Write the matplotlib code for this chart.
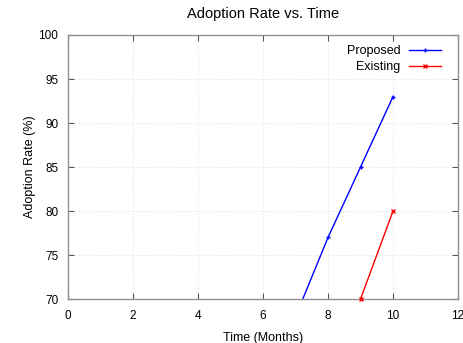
import matplotlib
matplotlib.use("Agg")
import matplotlib.pyplot as plt

# data (the first proposed point sits below the 70 floor)
months_proposed = [7, 8, 9, 10]
rate_proposed = [68, 77, 85, 93]
months_existing = [9, 10]
rate_existing = [70, 80]

plt.rcParams['font.family'] = ['Liberation Sans', 'DejaVu Sans']

fig = plt.figure(figsize=(4.64, 3.43), dpi=100)
ax = fig.add_axes([0.1466, 0.128, 0.8405, 0.770])

ax.plot(months_proposed, rate_proposed, color='blue', lw=1.0, marker='+',
        ms=3.5, mew=1.0, label='Proposed')
ax.plot(months_existing, rate_existing, color='red', lw=1.0, marker='x',
        ms=3.5, mew=1.0, label='Existing', clip_on=False, zorder=3)

ax.set_xlim(0, 12)
ax.set_ylim(70, 100)
ax.set_xticks(range(0, 13, 2))
ax.set_yticks(range(70, 101, 5))
ax.grid(True, color='#d8d8d8', linestyle=(0, (1, 2)), linewidth=0.6)

for s in ax.spines.values():
    s.set_color('#909090')
    s.set_linewidth(1.0)
ax.tick_params(direction='in', top=True, right=True, length=4, width=0.8,
               color='#555555', labelsize=8.5)
ax.tick_params(axis='x', pad=8)
ax.tick_params(axis='y', pad=7)

ax.set_xlabel('Time (Months)', fontsize=9, labelpad=7)
ax.set_ylabel('Adoption Rate (%)', fontsize=9, labelpad=2)
ax.set_title('Adoption Rate vs. Time', fontsize=10.5, pad=12)

ax.legend(loc='upper right', frameon=False, markerfirst=False, fontsize=9,
          handlelength=2.55, labelspacing=0.35, borderaxespad=0.5,
          handletextpad=0.7, borderpad=0.3, bbox_to_anchor=(0.982, 1.0))

fig.savefig('out.png', dpi=100)
